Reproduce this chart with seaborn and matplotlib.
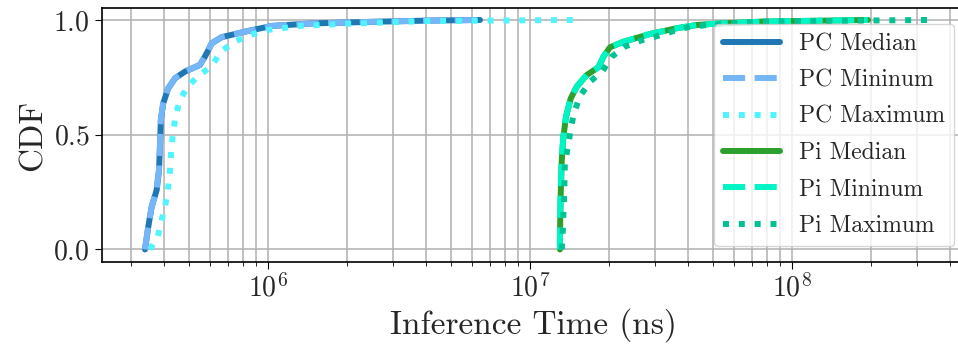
import matplotlib
matplotlib.use("Agg")
import matplotlib.pyplot as plt
import seaborn as sns
import pandas as pd
from matplotlib.ticker import LogLocator, NullFormatter

# ---- data (inference time in ns at given CDF levels) ----
pc_median_t = [3.384e5, 3.483e5, 3.589e5, 3.750e5, 3.828e5, 3.864e5, 3.890e5, 3.972e5,
               4.150e5, 4.406e5, 4.808e5, 5.483e5, 5.728e5, 6.081e5, 6.637e5, 8.147e5,
               1.030e6, 1.479e6, 2.512e6, 3.981e6, 6.427e6]
pc_median_p = [0.0, 0.099, 0.186, 0.259, 0.346, 0.462, 0.564, 0.637,
               0.702, 0.746, 0.775, 0.804, 0.840, 0.898, 0.925, 0.949,
               0.974, 0.985, 0.992, 0.997, 1.0]

pc_min_t = [3.380e5, 3.480e5, 3.586e5, 3.747e5, 3.825e5, 3.861e5, 3.887e5, 3.969e5,
            4.147e5, 4.403e5, 4.805e5, 5.480e5, 5.725e5, 6.078e5, 6.634e5, 8.144e5,
            1.029e6, 1.478e6, 2.510e6, 3.978e6, 6.40e6]
pc_min_p = [0.0, 0.099, 0.186, 0.259, 0.346, 0.462, 0.564, 0.637,
            0.702, 0.746, 0.775, 0.804, 0.840, 0.898, 0.925, 0.949,
            0.974, 0.985, 0.992, 0.997, 1.0]

pc_max_t = [3.532e5, 3.784e5, 3.917e5, 4.055e5, 4.150e5, 4.217e5, 4.256e5, 4.315e5,
            4.406e5, 4.560e5, 4.887e5, 5.408e5, 6.081e5, 6.592e5, 7.413e5, 8.511e5,
            9.863e5, 1.321e6, 2.051e6, 3.981e6, 1.483e7]
pc_max_p = [0.0, 0.055, 0.128, 0.200, 0.273, 0.346, 0.419, 0.494,
            0.567, 0.639, 0.707, 0.756, 0.799, 0.862, 0.905, 0.934,
            0.956, 0.974, 0.984, 0.995, 1.0]

pi_median_t = [1.297e7, 1.299e7, 1.306e7, 1.318e7, 1.337e7, 1.368e7, 1.426e7, 1.503e7,
               1.641e7, 1.820e7, 1.901e7, 2.014e7, 2.265e7, 2.864e7, 3.622e7, 4.315e7,
               5.140e7, 7.727e7, 1.945e8]
pi_median_p = [0.0, 0.099, 0.244, 0.389, 0.491, 0.578, 0.658, 0.709,
               0.760, 0.794, 0.840, 0.881, 0.905, 0.939, 0.964, 0.978,
               0.984, 0.993, 1.0]

pi_min_t = [1.296e7, 1.298e7, 1.305e7, 1.317e7, 1.336e7, 1.367e7, 1.425e7, 1.502e7,
            1.640e7, 1.819e7, 1.900e7, 2.013e7, 2.264e7, 2.862e7, 3.620e7, 4.312e7,
            5.137e7, 7.72e7, 1.94e8]
pi_min_p = [0.0, 0.099, 0.244, 0.389, 0.491, 0.578, 0.658, 0.709,
            0.760, 0.794, 0.840, 0.881, 0.905, 0.939, 0.964, 0.978,
            0.984, 0.993, 1.0]

pi_max_t = [1.318e7, 1.330e7, 1.337e7, 1.346e7, 1.355e7, 1.396e7, 1.426e7, 1.472e7,
            1.549e7, 1.690e7, 1.888e7, 2.046e7, 2.296e7, 2.636e7, 3.055e7, 3.532e7,
            4.064e7, 5.495e7, 7.762e7, 3.266e8]
pi_max_p = [0.0, 0.084, 0.160, 0.237, 0.382, 0.455, 0.528, 0.600,
            0.669, 0.731, 0.778, 0.840, 0.884, 0.910, 0.930, 0.952,
            0.971, 0.984, 0.993, 1.0]

series = [
    ("PC Median", pc_median_t, pc_median_p, "#1f77b4", "-"),
    ("PC Mininum", pc_min_t, pc_min_p, "#74b6f7", "--"),
    ("PC Maximum", pc_max_t, pc_max_p, "#4ff4ff", ":"),
    ("Pi Median", pi_median_t, pi_median_p, "#2ca02c", "-"),
    ("Pi Mininum", pi_min_t, pi_min_p, "#00f5c4", "--"),
    ("Pi Maximum", pi_max_t, pi_max_p, "#00c393", ":"),
]

sns.set_style("ticks")
plt.rcParams["font.family"] = ["cmr10", "DejaVu Serif"]
plt.rcParams["mathtext.fontset"] = "cm"
plt.rcParams["axes.formatter.use_mathtext"] = True
plt.rcParams["axes.unicode_minus"] = False

fig = plt.figure(figsize=(9.58, 3.49), dpi=100)
# the right edge of the axes runs just past the figure edge, as in the reference
ax = fig.add_axes([0.106, 0.249, 0.9024, 0.728])

for name, t, p, color, ls in series:
    df = pd.DataFrame({"t": t, "p": p})
    sns.lineplot(data=df, x="t", y="p", ax=ax, sort=False, estimator=None,
                 color=color, linestyle=ls, linewidth=4.3, label=name)

ax.set_xscale("log")
ax.set_xlim(2.31e5, 4.6e8)
ax.set_ylim(-0.055, 1.052)
ax.set_yticks([0.0, 0.5, 1.0])
ax.xaxis.set_minor_locator(LogLocator(base=10, subs=range(2, 10), numticks=20))
ax.xaxis.set_minor_formatter(NullFormatter())
ax.grid(True, which="both", axis="x", color="#b0b0b0", linewidth=1.1)
ax.grid(True, which="major", axis="y", color="#b0b0b0", linewidth=1.1)
for s in ax.spines.values():
    s.set_visible(True)
    s.set_color("black")
    s.set_linewidth(1.2)
ax.tick_params(axis="both", which="major", labelsize=20, length=5, color="black")
ax.tick_params(axis="x", which="minor", length=3, color="black")
ax.set_xlabel("Inference Time (ns)", fontsize=24)
ax.set_ylabel("CDF", fontsize=24)

leg = ax.legend(loc="center right", fontsize=17, handlelength=2.4,
                frameon=True, fancybox=True, framealpha=0.8, edgecolor="#cccccc",
                borderaxespad=0.5, labelspacing=0.6)

fig.savefig("out.png", dpi=100)
